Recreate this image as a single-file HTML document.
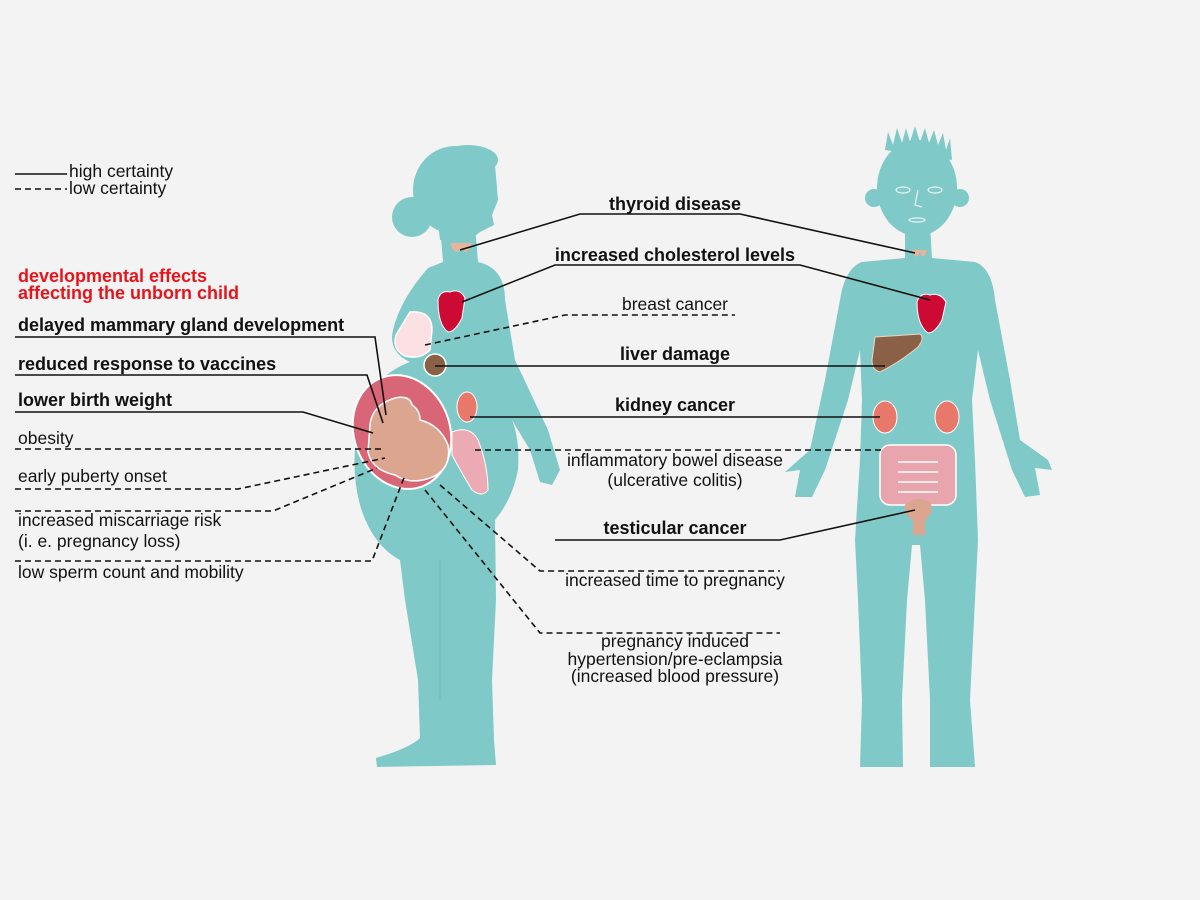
<!DOCTYPE html>
<html><head><meta charset="utf-8"><style>
html,body{margin:0;padding:0;background:#f3f3f3;}
svg{display:block;}
text{font-family:"Liberation Sans",Arial,sans-serif;font-size:17.5px;fill:#111;}
.b{font-weight:bold;font-size:18px;}
.r{fill:#e8141b;font-weight:bold;font-size:18px;}
</style></head><body>
<svg width="1200" height="900" viewBox="0 0 1200 900" xmlns="http://www.w3.org/2000/svg">
<rect width="1200" height="900" fill="#f3f3f3"/>
<!-- woman -->
<g fill="#80c9c9">
<ellipse cx="455" cy="190" rx="42" ry="44"/>
<path d="M430 160 Q470 140 495 165 L498 200 L492 215 L494 225 L480 232 L470 240 L440 240 Z"/>
<circle cx="412" cy="217" r="20"/>
<ellipse cx="468" cy="160" rx="30" ry="15"/>
<path d="M440 225 L475 225 L478 262 Q505 268 505 300 L515 360 L548 430 L560 470 L552 485 L540 482 L530 450 L512 420 Q520 440 518 470 Q512 500 495 520 L496 600 L492 680 L494 740 L496 765 L377 767 L376 758 Q410 748 420 738 L418 680 L405 600 L400 560 Q372 545 360 505 Q348 460 362 410 Q375 375 410 362 Q388 352 393 330 Q400 300 428 268 L443 262 Z"/>
</g>
<path d="M440 560 L440 700" stroke="#74bdbd" stroke-width="1" fill="none"/>
<!-- breast -->
<path d="M410 312 Q432 310 432 330 L430 350 Q420 360 405 356 Q392 350 396 335 Z" fill="#fbe0e4" stroke="#fff" stroke-width="1.5"/>
<!-- womb -->
<ellipse cx="402" cy="432" rx="48" ry="58" transform="rotate(-20 402 432)" fill="#d86676" stroke="#fff" stroke-width="2"/>
<path d="M370 425 Q372 405 395 398 Q410 395 412 405 Q420 410 420 420 Q440 425 448 445 Q452 470 430 478 Q410 485 395 475 Q372 470 368 452 Z" fill="#dba590" stroke="#fff" stroke-width="1.5"/>
<!-- intestine woman -->
<path d="M452 432 Q470 425 478 440 Q488 465 488 490 Q482 498 472 490 Q460 470 452 455 Z" fill="#ecaab5" stroke="#fff" stroke-width="1"/>
<!-- organs woman -->
<path d="M450 243 Q455 258 462 248 Q467 258 472 243 Z" fill="#e4b49c"/>
<path d="M438 300 Q440 290 450 292 Q460 288 465 298 L462 318 Q455 332 448 332 Q438 325 438 300 Z" fill="#cc0a33" stroke="#fff" stroke-width="1"/>
<circle cx="435" cy="365" r="11" fill="#8a6146" stroke="#fff" stroke-width="1.5"/>
<ellipse cx="467" cy="407" rx="10" ry="15" fill="#e8786a" stroke="#fff" stroke-width="1"/>
<!-- man -->
<g fill="#80c9c9">
<ellipse cx="917" cy="188" rx="40" ry="48"/>
<circle cx="874" cy="198" r="9"/><circle cx="960" cy="198" r="9"/>
<path d="M885 150 L888 132 L893 145 L897 128 L902 143 L906 128 L910 142 L915 126 L920 142 L925 128 L929 143 L934 130 L938 145 L943 133 L946 150 L950 138 L952 160 Z"/>
<path d="M905 225 L930 225 L932 258 L975 262 Q992 268 995 300 L1010 380 L1020 440 L1048 460 L1052 470 L1035 468 L1040 495 L1025 497 L1012 470 L990 400 L978 350 L972 400 L975 460 L978 540 L975 600 L970 700 L975 767 L930 767 L930 700 L925 600 L920 545 L912 545 L907 600 L902 700 L903 767 L860 767 L862 700 L858 600 L855 540 L860 460 L862 400 L860 350 L848 400 L825 470 L812 497 L795 497 L800 470 L785 472 L810 450 L825 380 L840 300 Q845 268 862 262 L905 258 Z"/>
</g>
<g fill="none" stroke="#e8f5f5" stroke-width="1.2"><ellipse cx="903" cy="190" rx="7" ry="3"/><ellipse cx="935" cy="190" rx="7" ry="3"/><path d="M918 190 L915 205 L922 207"/><ellipse cx="917" cy="220" rx="8" ry="2"/></g>
<path d="M912 250 Q916 262 920 252 Q924 262 927 250 Z" fill="#e4b49c"/>
<path d="M917 302 Q920 292 930 295 Q940 292 946 302 L942 320 Q935 333 928 333 Q917 325 917 302 Z" fill="#cc0a33" stroke="#fff" stroke-width="1"/>
<path d="M875 337 L920 334 Q925 338 918 347 Q900 362 880 372 Q872 370 872 360 Z" fill="#8a6146" stroke="#e8d8c0" stroke-width="1"/>
<ellipse cx="885" cy="417" rx="12" ry="16" fill="#e8786a" stroke="#fff" stroke-width="1"/>
<ellipse cx="947" cy="417" rx="12" ry="16" fill="#e8786a" stroke="#fff" stroke-width="1"/>
<rect x="880" y="445" width="76" height="60" rx="10" fill="#e8a5ad" stroke="#fff" stroke-width="1.5"/>
<g stroke="#fff" stroke-width="1.5"><line x1="898" y1="462" x2="938" y2="462"/><line x1="898" y1="472" x2="938" y2="472"/><line x1="898" y1="482" x2="938" y2="482"/><line x1="898" y1="492" x2="938" y2="492"/></g>
<path d="M905 505 Q915 495 930 502 Q935 512 925 520 L925 535 L913 535 L913 520 Q903 515 905 505 Z" fill="#dba590"/>
<!-- connectors solid -->
<g fill="none" stroke="#111" stroke-width="1.6">
<line x1="15" y1="174" x2="67" y2="174"/>
<polyline points="15,337 375,337 386,415"/>
<polyline points="15,375 367,375 383,423"/>
<polyline points="15,412 303,412 373,433"/>
<polyline points="460,250 580,214 740,214 915,253"/>
<polyline points="462,302 555,265 800,265 930,300"/>
<line x1="435" y1="366" x2="885" y2="366"/>
<line x1="470" y1="417" x2="880" y2="417"/>
<polyline points="555,540 780,540 915,510"/>
</g>
<g fill="none" stroke="#111" stroke-width="1.6" stroke-dasharray="6,4">
<line x1="15" y1="189" x2="67" y2="189"/>
<line x1="15" y1="449" x2="382" y2="449"/>
<polyline points="15,489 238,489 385,458"/>
<polyline points="15,511 273,511 377,468"/>
<polyline points="15,561 372,561 405,475"/>
<polyline points="425,345 565,315 735,315"/>
<line x1="475" y1="450" x2="885" y2="450"/>
<polyline points="440,485 540,571 780,571"/>
<polyline points="425,490 540,633 780,633"/>
</g>
<!-- text -->
<text x="69" y="177">high certainty</text>
<text x="69" y="194">low certainty</text>
<text x="18" y="282" class="r">developmental effects</text>
<text x="18" y="299" class="r">affecting the unborn child</text>
<text x="18" y="331" class="b">delayed mammary gland development</text>
<text x="18" y="370" class="b">reduced response to vaccines</text>
<text x="18" y="406" class="b">lower birth weight</text>
<text x="18" y="444">obesity</text>
<text x="18" y="482">early puberty onset</text>
<text x="18" y="526">increased miscarriage risk</text>
<text x="18" y="547">(i. e. pregnancy loss)</text>
<text x="18" y="578">low sperm count and mobility</text>
<text x="675" y="210" class="b" text-anchor="middle">thyroid disease</text>
<text x="675" y="261" class="b" text-anchor="middle">increased cholesterol levels</text>
<text x="675" y="310" text-anchor="middle">breast cancer</text>
<text x="675" y="360" class="b" text-anchor="middle">liver damage</text>
<text x="675" y="411" class="b" text-anchor="middle">kidney cancer</text>
<text x="675" y="466" text-anchor="middle">inflammatory bowel disease</text>
<text x="675" y="486" text-anchor="middle">(ulcerative colitis)</text>
<text x="675" y="534" class="b" text-anchor="middle">testicular cancer</text>
<text x="675" y="586" text-anchor="middle">increased time to pregnancy</text>
<text x="675" y="647" text-anchor="middle">pregnancy induced</text>
<text x="675" y="665" text-anchor="middle">hypertension/pre-eclampsia</text>
<text x="675" y="682" text-anchor="middle">(increased blood pressure)</text>
</svg>
</body></html>
